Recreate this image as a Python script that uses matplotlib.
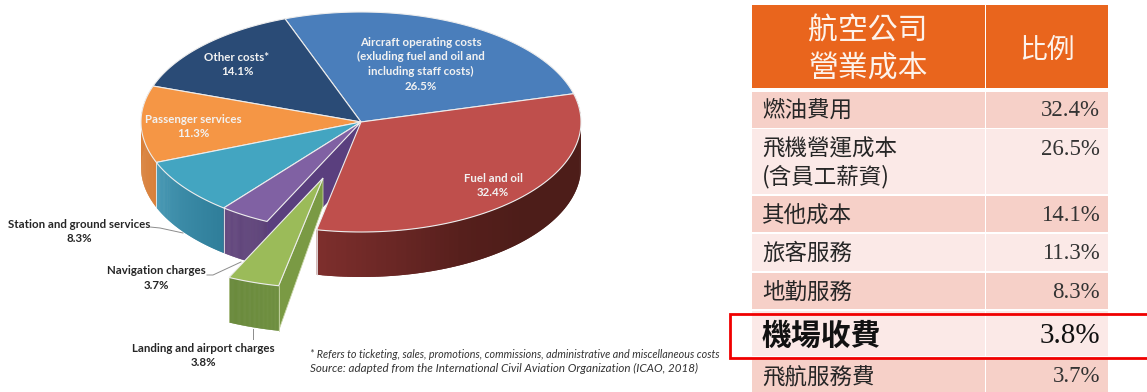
import numpy as np
import matplotlib
matplotlib.use("Agg")
import matplotlib.pyplot as plt
from matplotlib.collections import PolyCollection
from matplotlib.patches import Polygon, Rectangle

# Airline operating cost shares, in the order they run round the pie
pie_names = [
    "Aircraft operating costs\n(exluding fuel and oil and\nincluding staff costs)",
    "Other costs*",
    "Passenger services",
    "Station and ground services",
    "Navigation charges",
    "Landing and airport charges",
    "Fuel and oil",
]
pie_values = [26.5, 14.1, 11.3, 8.3, 3.7, 3.8, 32.4]
pie_colors = ["#4A7EBB", "#2A4B76", "#F59645", "#43A5C1", "#8061A3", "#9BBB59", "#BF4F4C"]

# Same figures as a table, largest first apart from the last two rows
table_head = ["航空公司\n營業成本", "比例"]
table_names = ["燃油費用", "飛機營運成本\n(含員工薪資)", "其他成本", "旅客服務",
               "地勤服務", "機場收費", "飛航服務費"]
table_values = [32.4, 26.5, 14.1, 11.3, 8.3, 3.8, 3.7]

footnotes = [
    "* Refers to ticketing, sales, promotions, commissions, administrative and miscellaneous costs",
    "Source: adapted from the International Civil Aviation Organization (ICAO, 2018)",
]

LABEL_FONT = "Lato"
CJK_FONT = ["Noto Sans CJK TC", "DejaVu Sans"]

fig = plt.figure(figsize=(11.47, 3.92), dpi=100)
ax = fig.add_axes([0, 0, 1, 1])
ax.set_xlim(0, 1147)
ax.set_ylim(392, 0)
ax.axis("off")

# --- Pie geometry: a tilted disc with a visible rim ---
CX, CY, RX, RY = 361, 122, 220, 110
DEPTH = 45
START = 14.9
EDGE = "#EDEDED"

shares = np.array(pie_values) / sum(pie_values) * 360
bounds = START + np.concatenate([[0], np.cumsum(shares)])
spans = list(zip(bounds[:-1], bounds[1:]))


def rim(t0, t1, dx=0.0, dy=0.0, n=80):
    t = np.radians(np.linspace(t0, t1, n))
    return np.column_stack([CX + dx + RX * np.cos(t), CY + dy - RY * np.sin(t)])


def wall(t0, t1, ramp, dx=0.0, dy=0.0, z=2):
    # Shaded rim built from strips that overlap the next one, so no seams show
    pts = rim(t0, t1, dx, dy, n=90)
    frac = np.linspace(0, 1, len(pts) - 1)
    stops = np.linspace(0, 1, len(ramp))
    rgb = np.array([matplotlib.colors.to_rgb(c) for c in ramp])
    cols = np.column_stack([np.interp(frac, stops, rgb[:, i]) for i in range(3)])
    quads = []
    for i in range(len(pts) - 1):
        strip = pts[i:min(i + 3, len(pts))]
        quads.append(np.vstack([strip, strip[::-1] + [0, DEPTH]]))
    ax.add_collection(PolyCollection(quads, facecolors=cols, edgecolors="none", linewidths=0, zorder=z))


def top_face(t0, t1, color, dx=0.0, dy=0.0, z=4):
    pts = np.vstack([[CX + dx, CY + dy], rim(t0, t1, dx, dy)])
    ax.add_patch(Polygon(pts, closed=True, facecolor=color, edgecolor=EDGE, linewidth=0.8, zorder=z))


# Rim of the disc: orange, teal, purple and red are the parts facing the viewer
wall(spans[2][0], spans[2][1], ["#D9803A", "#D9803A"])
wall(spans[3][0], spans[3][1], ["#4A9AB5", "#3A8AA6", "#2F7E9A"])
wall(spans[4][0], spans[4][1], ["#65497F", "#5C4178"])
wall(spans[6][0], spans[6][1], ["#7D2E2C", "#6A2725", "#561F1C", "#4D1D19", "#4D1D19", "#4D1D19", "#50201B"])

# Cut face left behind by the pulled-out slice
gap = rim(spans[4][1], spans[4][1], n=1)[0]
ax.add_patch(Polygon([[CX, CY], gap, gap + [0, DEPTH], [CX, CY + DEPTH]],
                     closed=True, facecolor="#5A3F7E", edgecolor="none", zorder=3))

for i, (t0, t1) in enumerate(spans):
    if i != 5:
        top_face(t0, t1, pie_colors[i])

# Seams between neighbouring rim sections
for t in (spans[3][0], spans[3][1]):
    p = rim(t, t, n=1)[0]
    ax.plot([p[0], p[0]], [p[1], p[1] + DEPTH], color=EDGE, lw=0.6, zorder=3)
p = rim(spans[6][0], spans[6][0], n=1)[0]
ax.plot([p[0], p[0]], [p[1], p[1] + DEPTH], color=EDGE, lw=0.6, zorder=3)

# Pulled-out slice with its own rim and cut face
OX, OY = -38, 56
g0, g1 = spans[5]
left = rim(g0, g0, OX, OY, n=1)[0]
right = rim(g1, g1, OX, OY, n=1)[0]
apex = np.array([CX + OX, CY + OY])
ax.add_patch(Polygon([apex, right, right + [0, DEPTH], apex + [0, DEPTH - 17]], closed=True,
                     facecolor="#7A9A44", edgecolor="#C9D6A8", linewidth=0.6, zorder=5))
wall(g0, g1, ["#6A8A3C", "#6F8F40"], OX, OY, z=5)
ax.plot(*np.column_stack([left, left + [0, DEPTH]]), color="#C9D6A8", lw=0.5, zorder=6)
ax.plot(*np.column_stack([right, right + [0, DEPTH]]), color="#C9D6A8", lw=0.6, zorder=6)
top_face(g0, g1, pie_colors[5], OX, OY, z=6)

# --- Pie labels ---
inside = {0: (421, 42), 1: (237, 57), 2: (193, 119), 6: (493, 178)}
outside = {3: (79, 224), 4: (156, 271), 5: (203, 348)}
LINE_GAP = 14.7


def label(i, x, y, color):
    lines = pie_names[i].split("\n") + [f"{pie_values[i]}%"]
    for k, line in enumerate(lines):
        ax.text(x, y + k * LINE_GAP, line, ha="center", va="center", color=color, fontsize=8.25,
                family=LABEL_FONT, weight="bold", zorder=8)


for i, (x, y) in inside.items():
    label(i, x, y, "#F2F2F2")
for i, (x, y) in outside.items():
    label(i, x, y, "#262626")

# Leader lines for the labels outside the disc
for xs, ys in [([150, 160, 183], [227, 228, 233]),
               ([207, 213, 241], [275, 275, 262]),
               ([252.5, 252.5], [329, 339])]:
    ax.plot(xs, ys, color="#8C8C8C", lw=0.7, zorder=1)

for y, size, note in zip((354, 368), (7.75, 8.4), footnotes):
    ax.text(310, y, note, ha="left", va="center", fontsize=size, style="italic",
            family=LABEL_FONT, color="#333333")

# --- Table ---
COL_X = [752, 986, 1108]
HEAD_Y = (5, 88)
ROW_Y = [(92, 127.5), (129, 194), (196, 232), (234, 270.5), (272.5, 309), (311, 356), (358, 392)]
ODD, EVEN = "#F6D0C8", "#FBE9E7"
HEAD = "#E9651D"

for c in range(2):
    ax.add_patch(Rectangle((COL_X[c], HEAD_Y[0]), COL_X[c + 1] - COL_X[c] - (1 if c == 0 else 0),
                           HEAD_Y[1] - HEAD_Y[0], facecolor=HEAD, edgecolor="none"))
for r, (y0, y1) in enumerate(ROW_Y):
    for c in range(2):
        ax.add_patch(Rectangle((COL_X[c], y0), COL_X[c + 1] - COL_X[c] - (1 if c == 0 else 0), y1 - y0,
                               facecolor=ODD if r % 2 == 0 else EVEN, edgecolor="none"))

head_lines = table_head[0].split("\n")
for line, y in zip(head_lines, (31, 68)):
    ax.text(868, y, line, ha="center", va="center", fontsize=21.5, color="#FDF3EC", family=CJK_FONT)
ax.text(1047, 50, table_head[1], ha="center", va="center", fontsize=20, color="#FDF3EC", family=CJK_FONT)

text_y = [110.5, None, 215, 253.5, 292.5, 336, 377]
for r, (name, value) in enumerate(zip(table_names, table_values)):
    strong = r == 5
    size = 21.5 if strong else 16.2
    weight = "bold" if strong else "normal"
    if "\n" in name:
        for line, y in zip(name.split("\n"), (149, 177)):
            ax.text(762, y, line, ha="left", va="center", fontsize=size, color="#262626", family=CJK_FONT)
        value_y = 149
    else:
        ax.text(762, text_y[r], name, ha="left", va="center", fontsize=size, weight=weight,
                color="#111111" if strong else "#262626", family=CJK_FONT)
        value_y = text_y[r]
    ax.text(1100, value_y, f"{value}%", ha="right", va="center", fontsize=21 if strong else 16.5,
            color="#111111" if strong else "#333333", family="Liberation Serif")

# Red outline calling out the airport charges row; it runs off the right side
ax.plot([1147, 730, 730, 1147], [313.5, 313.5, 357.5, 357.5], color="#F00000", lw=2.0,
        solid_joinstyle="miter", zorder=9, clip_on=True)

fig.savefig("out.png", dpi=100, facecolor="white")
